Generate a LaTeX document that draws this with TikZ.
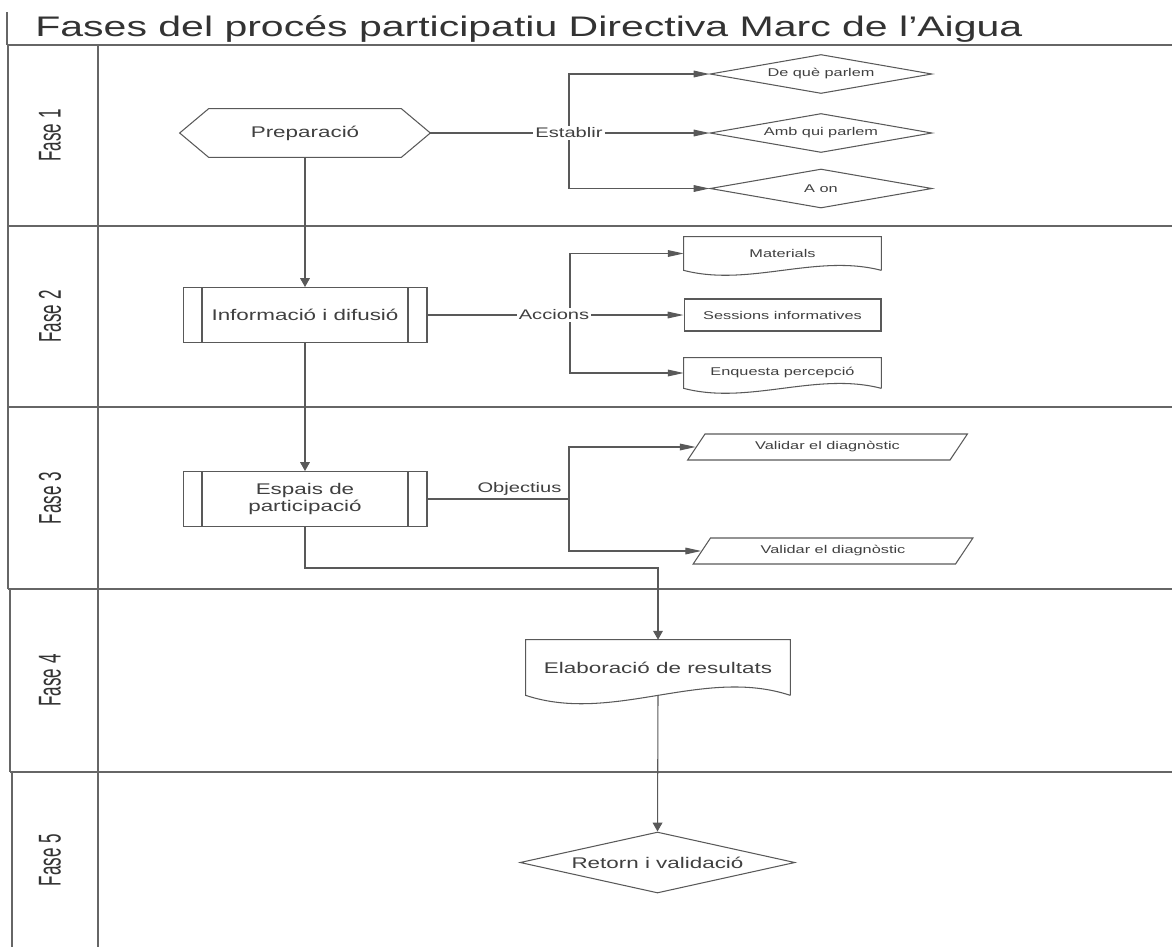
\documentclass[tikz,border=0pt]{standalone}
\usepackage{fontspec}
\setmainfont{Liberation Sans}[FakeStretch=1.45]
\newfontfamily\lanefont{Liberation Sans}
\usetikzlibrary{arrows.meta,shapes.geometric,calc}

\newcommand\docoutline[2]{%
  \draw[outl] (#1.south east) -- (#1.north east) -- (#1.north west) -- (#1.south west)
    .. controls ($(#1.south west)!0.33!(#1.south east)+(0,#2)$)
    and ($(#1.south west)!0.67!(#1.south east)-(0,#2)$) .. (#1.south east);}

\begin{document}
\begin{tikzpicture}[
  x=0.02cm, y=-0.02cm,
  every node/.style={inner sep=0pt, text=black!75},
  outl/.style={draw=black!65, line width=0.6pt},
  lane/.style={draw=black!60, line width=1pt},
  harrow/.style={outl, -{Triangle[length=9pt,width=3.8pt]}},
  varrow/.style={outl, -{Triangle[length=5pt,width=5.5pt]}},
  mainfont/.style={font=\fontsize{8.8}{9.8}\selectfont},
  smallfont/.style={font=\fontsize{6.4}{7.5}\selectfont},
  lanelbl/.style={rotate=90, font=\lanefont\fontsize{9.7}{11}\selectfont, text=black!80},
  elabel/.style={font=\fontsize{7.9}{9}\selectfont, fill=white, inner sep=1pt},
  subproc/.style={outl, mainfont, align=center, minimum width=4.88cm, minimum height=1.1cm,
    path picture={\draw[outl] ([xshift=0.38cm]path picture bounding box.north west) -- ([xshift=0.38cm]path picture bounding box.south west)
      ([xshift=-0.38cm]path picture bounding box.north east) -- ([xshift=-0.38cm]path picture bounding box.south east);}},
  choice/.style={diamond, outl, smallfont, aspect=5.8, minimum width=4.44cm, minimum height=0.78cm},
  iobox/.style={trapezium, trapezium left angle=46, trapezium right angle=134, trapezium stretches=true,
    outl, smallfont, minimum width=5.62cm, minimum height=0.52cm},
  docbox/.style={smallfont, minimum width=3.94cm}
]
\useasboundingbox (0,0) rectangle (1172,947);

\draw[lane] (7,12) -- (7,45);
\draw[lane] (7,45) -- (1172,45);
\foreach \y in {226,407,589} \draw[lane] (8,\y) -- (1172,\y);
\draw[lane] (10,772) -- (1172,772);
\draw[lane] (8,45) -- (8,589);
\draw[lane] (10,589) -- (10,772);
\draw[lane] (12,772) -- (12,947);
\draw[lane] (98,45) -- (98,947);
\foreach \n/\y in {1/135.5,2/316.5,3/498,4/680.5,5/860}
  \node[lanelbl] (fase\n) at (50,\y) {\scalebox{1}[1.85]{Fase \n}};

\node[anchor=base west, font=\fontsize{16.1}{18}\selectfont, text=black!80] (title) at (35,36)
  {Fases del procés participatiu Directiva Marc de l’Aigua};

\node[mainfont, minimum width=5cm, minimum height=0.96cm] (prep) at (305,133) {Preparació};
\draw[outl] (prep.west) -- ([xshift=0.58cm]prep.north west) -- ([xshift=-0.58cm]prep.north east)
  -- (prep.east) -- ([xshift=-0.58cm]prep.south east) -- ([xshift=0.58cm]prep.south west) -- cycle;
\node[choice] (q1) at (821,74) {De què parlem};
\node[choice] (q2) at (821,133) {Amb qui parlem};
\node[choice] (q3) at (821,188.5) {A on};
\node[elabel] (est) at (569,133) {Establir};

\node[subproc] (inf) at (305,315) {Informació i difusió};
\node[docbox, minimum height=0.66cm] (mat) at (782.5,253.5) {Materials};
\node[docbox, outl, minimum height=0.64cm] (ses) at (782.5,315) {Sessions informatives};
\node[docbox, minimum height=0.6cm] (enq) at (782.5,373) {Enquesta percepció};
\docoutline{mat}{17}
\docoutline{enq}{17}
\node[elabel] (acc) at (554,315) {Accions};
\coordinate (b2) at (570,315);

\node[subproc] (esp) at (305,499) {Espais de\\participació};
\node[iobox] (val1) at (827.5,447) {Validar el diagnòstic};
\node[iobox] (val2) at (833,551) {Validar el diagnòstic};
\coordinate (b3) at (569,499);
\coordinate (k4) at (658,568);

\node[mainfont, minimum width=5.28cm, minimum height=1.1cm] (elab) at (658,667.5) {Elaboració de resultats};
\docoutline{elab}{29}
\node[choice, mainfont, aspect=4.5, minimum width=5.5cm, minimum height=1.22cm] (ret) at (657.5,862.5) {Retorn i validació};

\draw[varrow] (prep.south) -- (inf.north);
\draw[outl] (prep.east) -- (est.west);
\draw[harrow] (est.north) |- (q1.west);
\draw[harrow] (est.east) -- (q2.west);
\draw[harrow] (est.south) |- (q3.west);
\draw[outl] (inf.east) -- (acc.west);
\draw[harrow] (acc.north -| b2) |- (mat.west);
\draw[harrow] (acc.east) -- (ses.west);
\draw[harrow] (acc.south -| b2) |- (enq.west);
\draw[varrow] (inf.south) -- (esp.north);
\draw[outl] (esp.east) -- node[elabel, fill=none, above=1pt, pos=0.65] (obj) {Objectius} (b3);
\draw[harrow] (b3) |- (val1.left side);
\draw[harrow] (b3) |- (val2.left side);
\draw[varrow] (esp.south) |- (k4) -- (elab.north);
\draw[varrow] (elab.south) -- (ret.north);
\end{tikzpicture}
\end{document}
